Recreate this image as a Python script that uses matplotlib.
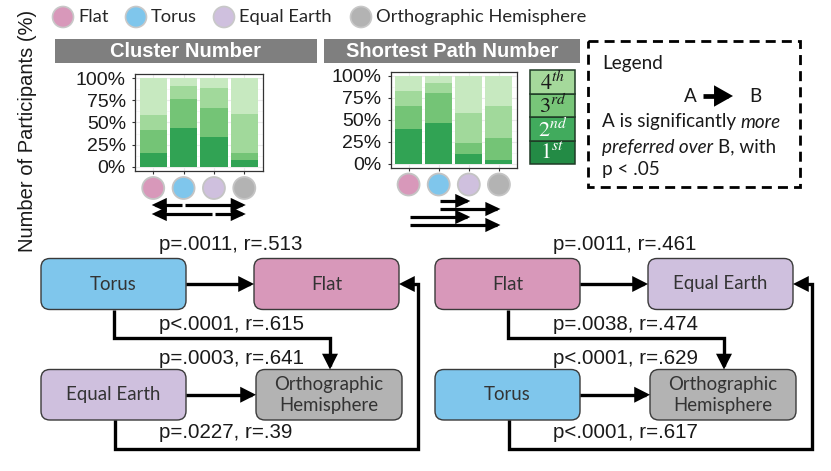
import matplotlib
matplotlib.use("Agg")
import matplotlib.pyplot as plt
from matplotlib.patches import FancyBboxPatch, Rectangle, Circle, FancyArrowPatch, ArrowStyle
from matplotlib.path import Path
import numpy as np

# ---------------- data ----------------
projections = ["Flat", "Torus", "Equal Earth", "Orthographic Hemisphere"]
proj_colors = ["#d898ba", "#7fc6ec", "#cfc0de", "#b3b3b3"]
rank_labels = [r"$1^{st}$", r"$2^{nd}$", r"$3^{rd}$", r"$4^{th}$"]
bar_colors = ["#31a354", "#74c476", "#a1d99b", "#c7e9c0"]
legend_cell_colors = ["#238b45", "#41ab5d", "#78c679", "#a5d99b"]
percent_ticks = [0, 25, 50, 75, 100]
percent_labels = ["0%", "25%", "50%", "75%", "100%"]

# percentages (1st, 2nd, 3rd, 4th) for Flat, Torus, Equal Earth, Orthographic
cluster_rank1 = [15, 44, 33, 8]
cluster_rank2 = [26, 33, 33, 7]
cluster_rank3 = [17, 14, 23, 45]
cluster_rank4 = [42, 9, 11, 40]

shortest_rank1 = [39, 46, 11, 4]
shortest_rank2 = [27, 35, 12, 25]
shortest_rank3 = [17, 11, 35, 37]
shortest_rank4 = [17, 8, 42, 34]

# significant pairs (source index -> target index), grouped by row under bars
cluster_sig_rows = [[(1, 0), (1, 3)], [(2, 0), (2, 3)]]
shortest_sig_rows = [[(1, 2)], [(1, 3)], [(0, 2)], [(0, 3)]]

# diagram nodes: top-left, top-right, bottom-left, bottom-right
cluster_nodes = ["Torus", "Flat", "Equal Earth", "Orthographic Hemisphere"]
shortest_nodes = ["Flat", "Equal Earth", "Torus", "Orthographic Hemisphere"]
# edges: TL->TR, TL->BR, BL->BR, BL->TR
cluster_stats = ["p=.0011, r=.513", "p<.0001, r=.615", "p=.0003, r=.641", "p=.0227, r=.39"]
shortest_stats = ["p=.0011, r=.461", "p=.0038, r=.474", "p<.0001, r=.629", "p<.0001, r=.617"]

# ---------------- figure ----------------
W, H = 831, 471
fig = plt.figure(figsize=(W / 100, H / 100), dpi=100)
ov = fig.add_axes([0, 0, 1, 1])
ov.set_xlim(0, W)
ov.set_ylim(H, 0)
ov.axis("off")
ov.set_zorder(5)
ov.patch.set_alpha(0)

CAL = ["Lato", "DejaVu Sans"]
ARI = ["Liberation Sans", "DejaVu Sans"]
plt.rcParams["mathtext.fontset"] = "stix"
color_of = dict(zip(projections, proj_colors))


def px_axes(left, right, top, bottom):
    return fig.add_axes([left / W, (H - bottom) / H, (right - left) / W, (bottom - top) / H])


def arrow(path_pts, lw=2.4, hl=0.75, hw=0.38):
    p = Path(path_pts)
    a = FancyArrowPatch(path=p, arrowstyle=ArrowStyle("-|>", head_length=hl, head_width=hw),
                        mutation_scale=10, color="black", lw=lw, joinstyle="miter", capstyle="butt",
                        shrinkA=0, shrinkB=0, transform=ov.transData, zorder=6)
    ov.add_patch(a)


# y label
ov.text(28, 131, "Number of Participants (%)", rotation=90, ha="center", va="center",
        fontsize=14.5, family=ARI, color="#1a1a1a")

# top legend
legend_x = [63, 136, 224, 361]
for name, col, x in zip(projections, proj_colors, legend_x):
    ov.add_patch(Circle((x, 17), 10.5, facecolor=col, edgecolor="#c8c8c8", lw=1.2, zorder=6))
    ov.text(x + 15, 17, name, ha="left", va="center", fontsize=13.2, family=CAL, color="#262626")

# headers
for (l, r, title) in [(55, 317, "Cluster Number"), (324, 580, "Shortest Path Number")]:
    ov.add_patch(Rectangle((l, 39), r - l, 24, facecolor="#7f7f7f", edgecolor="none"))
    ov.text((l + r) / 2, 51.5, title, ha="center", va="center", fontsize=14.5, family=ARI,
            weight="bold", color="white")


def bar_panel(rect, ranks, sig_rows, circle_y, row_y):
    ax = px_axes(*rect)
    x = np.arange(len(projections))
    bottom = np.zeros(len(projections))
    for vals, c in zip(ranks, bar_colors):
        ax.bar(x, vals, bottom=bottom, width=0.9, color=c, edgecolor="none", zorder=3)
        bottom += np.array(vals)
    ax.set_xlim(-0.6, 3.6)
    ax.set_ylim(-5, 105)
    ax.set_yticks(percent_ticks)
    ax.set_yticklabels(percent_labels)
    ax.set_yticks([12.5, 37.5, 62.5, 87.5], minor=True)
    ax.set_xticks(x)
    ax.set_xticklabels([])
    ax.grid(True, which="major", color="#ebebeb", lw=0.8, zorder=0)
    ax.grid(True, which="minor", axis="y", color="#f4f4f4", lw=0.5, zorder=0)
    ax.tick_params(axis="both", which="major", length=2.5, width=0.8, color="#333333",
                   labelsize=14, pad=4)
    ax.tick_params(axis="y", which="minor", length=0)
    for lab in ax.get_yticklabels():
        lab.set_family(ARI)
        lab.set_color("#1a1a1a")
    for s in ax.spines.values():
        s.set_color("#333333")
        s.set_linewidth(0.9)
    xs = [ax.transData.transform((i, 0))[0] for i in x]
    for xc, col in zip(xs, proj_colors):
        ov.add_patch(Circle((xc, circle_y), 11, facecolor=col, edgecolor="#c4c4c4", lw=1.3, zorder=6))
    for row, yy in zip(sig_rows, row_y):
        for s, t in row:
            d = 1 if xs[t] > xs[s] else -1
            arrow([(xs[s] + 1.5 * d, yy), (xs[t] + 1.5 * d, yy)], lw=2.3, hl=0.7, hw=0.33)
    return ax


bar_panel((135, 262.5, 74, 171), [cluster_rank1, cluster_rank2, cluster_rank3, cluster_rank4],
          cluster_sig_rows, 188, [205, 214])
bar_panel((390.5, 517, 71.5, 168), [shortest_rank1, shortest_rank2, shortest_rank3, shortest_rank4],
          shortest_sig_rows, 184.5, [201, 209, 217, 225])

# rank legend
cell_h = 23.5
for i, (lab, col) in enumerate(zip(rank_labels, legend_cell_colors)):
    y0 = 164 - (i + 1) * cell_h
    ov.add_patch(Rectangle((530, y0), 45, cell_h, facecolor=col, edgecolor="#1f3b26", lw=1.1, zorder=6))
    ov.text(552.5, y0 + cell_h / 2 + 0.5, lab, ha="center", va="center", fontsize=16,
            color="white" if i < 2 else "#1a1a1a", zorder=7)

# dashed legend box
ov.add_patch(Rectangle((588, 41), 212, 146, facecolor="none", edgecolor="black", lw=2.0,
                       linestyle=(0, (3.6, 2.2)), zorder=6))
LFS = 13.6
ov.text(602, 63, "Legend", ha="left", va="center", fontsize=LFS, family=CAL, color="#1a1a1a")
ov.text(690, 96, "A", ha="center", va="center", fontsize=LFS, family=CAL, color="#1a1a1a")
ov.text(755, 96, "B", ha="center", va="center", fontsize=LFS, family=CAL, color="#1a1a1a")
arrow([(703, 96), (733, 96)], lw=3.4, hl=0.85, hw=0.48)

fig.canvas.draw()
rend = fig.canvas.get_renderer()


def mixed_line(x, y, parts):
    for txt, style, gap in parts:
        x += gap
        t = ov.text(x, y, txt, ha="left", va="center", fontsize=LFS, family=CAL, style=style,
                    color="#1a1a1a")
        bb = t.get_window_extent(renderer=rend)
        x += bb.width


mixed_line(602, 122, [("A is significantly", "normal", 0), ("more", "italic", 4.5)])
mixed_line(602, 147, [("preferred over", "italic", 0), ("B, with", "normal", 4.5)])
mixed_line(602, 169, [("p < .05", "normal", 0)])


# ---------------- diagrams ----------------
def diagram(x0, nodes, stats):
    yt, yb = (258.5, 309.5), (369.5, 420)
    boxes = [(x0, x0 + 145, *yt), (x0 + 213, x0 + 358, *yt),
             (x0, x0 + 145, *yb), (x0 + 215, x0 + 361, *yb)]
    for (l, r, t, b), name in zip(boxes, nodes):
        ov.add_patch(FancyBboxPatch((l, t), r - l, b - t, boxstyle="round,pad=0,rounding_size=9",
                                    facecolor=color_of[name], edgecolor="#3a3a3a", lw=1.0, zorder=6))
        label = name.replace("Orthographic Hemisphere", "Orthographic\nHemisphere")
        ov.text((l + r) / 2, (t + b) / 2, label, ha="center", va="center", fontsize=13.4,
                family=CAL, color="#333333", linespacing=1.3, zorder=7)
    ytm = (yt[0] + yt[1]) / 2
    ybm = (yb[0] + yb[1]) / 2
    arrow([(x0 + 145, ytm), (x0 + 213, ytm)])
    arrow([(x0 + 72.5, yt[1]), (x0 + 72.5, 338), (x0 + 289, 338), (x0 + 289, yb[0])])
    arrow([(x0 + 145, ybm), (x0 + 215, ybm)])
    arrow([(x0 + 73.5, yb[1]), (x0 + 73.5, 449), (x0 + 377, 449), (x0 + 377, ytm), (x0 + 358, ytm)])
    for s, y in zip(stats, [245, 324, 358, 433]):
        ov.text(x0 + 118, y, s, ha="left", va="center", fontsize=14.8, family=ARI, color="#1a1a1a", zorder=7)


diagram(41, cluster_nodes, cluster_stats)
diagram(435, shortest_nodes, shortest_stats)

fig.savefig("out.png", dpi=100)
